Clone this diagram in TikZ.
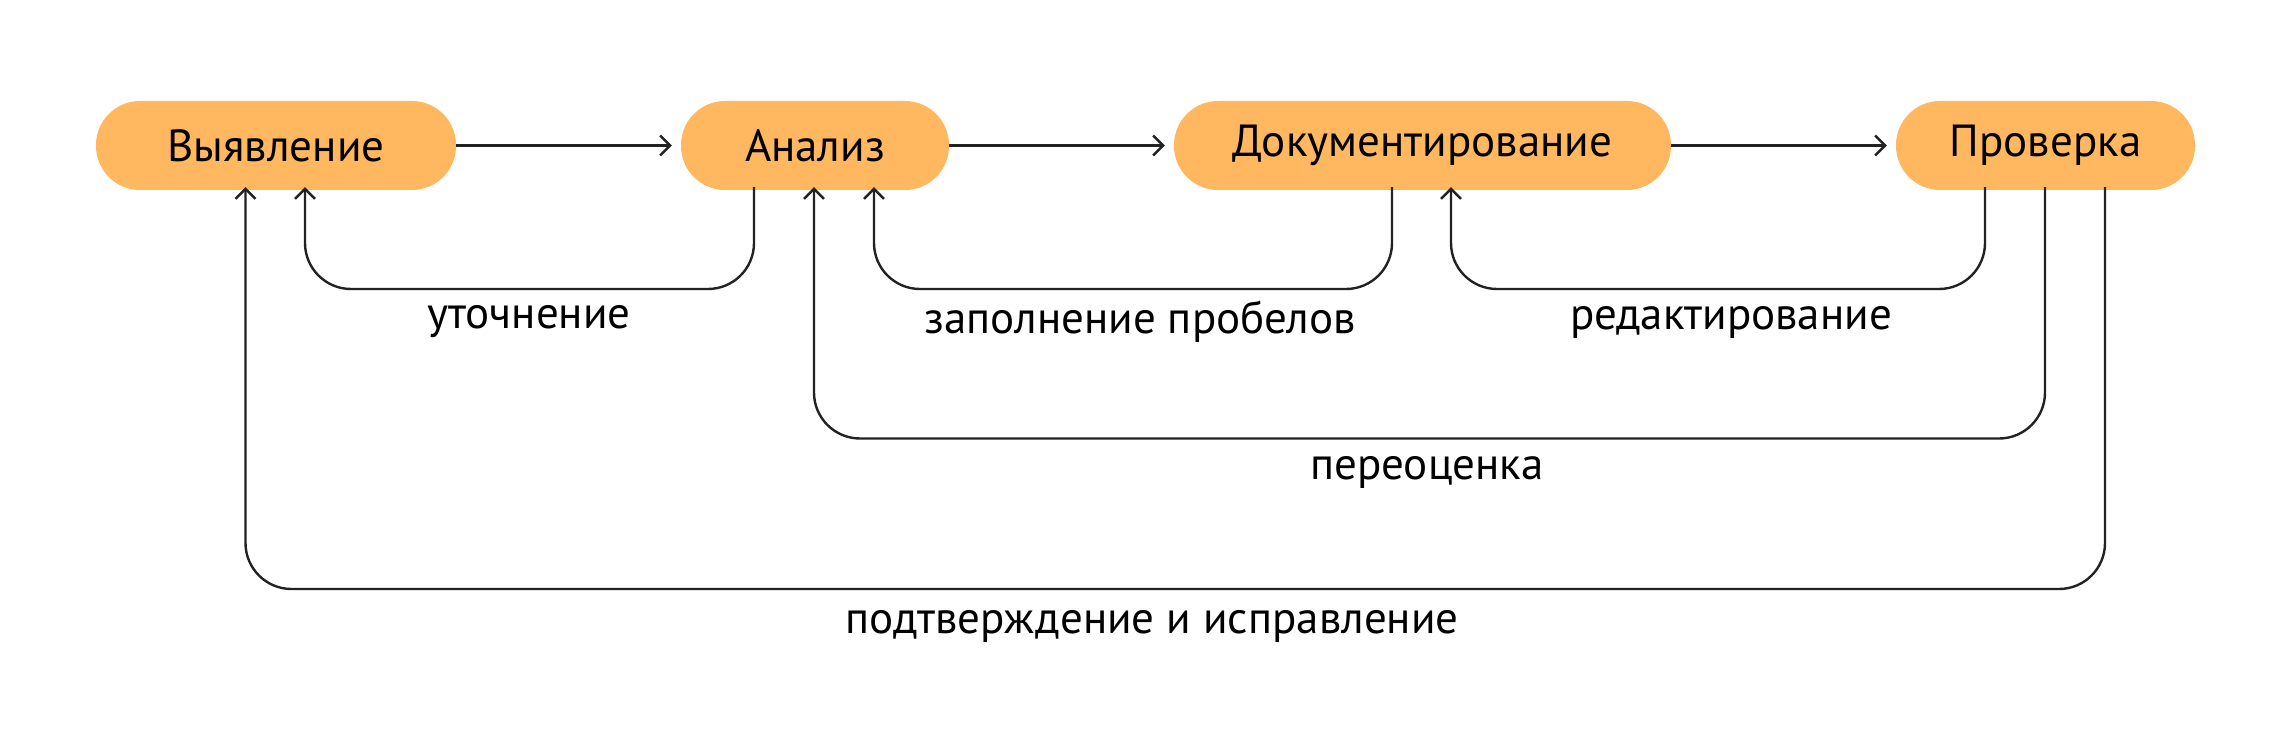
\documentclass[tikz,border=0pt]{standalone}
\usepackage{fontspec}
\setmainfont{PT Sans}
\usetikzlibrary{arrows.meta}
\definecolor{boxfill}{HTML}{FFB85F}
\definecolor{linec}{HTML}{222222}
\begin{document}
\begin{tikzpicture}[x=1pt,y=-1pt,
  stage/.style={fill=boxfill, draw=none, rounded corners=44pt, minimum height=89pt, inner sep=0pt, font=\fontsize{45}{54}\selectfont, text=black},
  conn/.style={draw=linec, line width=2.4pt, -{Straight Barb[length=10pt,width=20pt,line width=2.4pt]}},
  loop/.style={conn, rounded corners=46pt},
  lbl/.style={font=\fontsize{45}{54}\selectfont, text=black, inner sep=0pt}]
\useasboundingbox (0,0) rectangle (2292,735);
\node[stage, minimum width=360pt] (vyy) at (276,145.5) {Выявление};
\node[stage, minimum width=268pt] (ana) at (815,145.5) {Анализ};
\node[stage, minimum width=497pt] (doc) at (1422.5,145.5) {Документирование};
\node[stage, minimum width=299pt] (pro) at (2045.5,145.5) {Проверка};
% horizontal arrows
\draw[conn] (vyy.east) -- ([xshift=-9pt]ana.west);
\draw[conn] (ana.east) -- ([xshift=-9pt]doc.west);
\draw[conn] (doc.east) -- ([xshift=-9pt]pro.west);
% loop coordinates
\coordinate (c1) at (305,289);
\coordinate (c2) at (874,289);
\coordinate (c3) at (1451,289);
\coordinate (c4) at (814,438.5);
\coordinate (c5) at (245.5,589);
% loops
\draw[loop] ([yshift=3pt]ana.south -| 754,0) -- (754,289) -| ([yshift=3pt]vyy.south -| c1);
\draw[loop] ([yshift=3pt]doc.south -| 1392,0) -- (1392,289) -| ([yshift=3pt]ana.south -| c2);
\draw[loop] ([yshift=3pt]pro.south -| 1985,0) -- (1985,289) -| ([yshift=3pt]doc.south -| c3);
\draw[loop] ([yshift=3pt]pro.south -| 2045,0) -- (2045,438.5) -| ([yshift=3pt]ana.south -| c4);
\draw[loop] ([yshift=3pt]pro.south -| 2105,0) -- (2105,589) -| ([yshift=3pt]vyy.south -| c5);
% labels
\node[lbl] (l1) at (529,322) {уточнение};
\node[lbl] (l2) at (1140,322) {заполнение пробелов};
\node[lbl] (l3) at (1731,322) {редактирование};
\node[lbl] (l4) at (1427,472) {переоценка};
\node[lbl] (l5) at (1152,626) {подтверждение и исправление};
\end{tikzpicture}
\end{document}
